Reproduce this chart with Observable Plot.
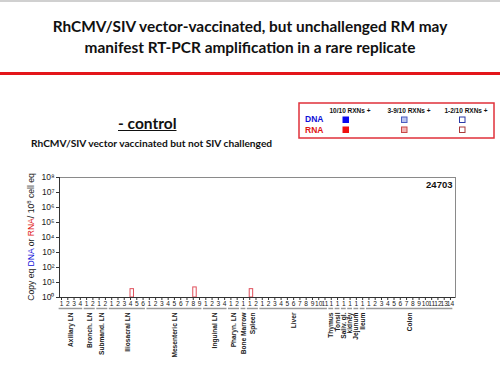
<!DOCTYPE html>
<html><head><meta charset="utf-8">
<script src="https://cdn.jsdelivr.net/npm/d3@7"></script>
<script src="https://cdn.jsdelivr.net/npm/@observablehq/plot@0.6"></script>
<style>
html,body{margin:0;padding:0;background:#fff;}
#page{position:relative;width:500px;height:375px;overflow:hidden;font-family:Lato,"Open Sans",sans-serif;color:#111;}
#topline{position:absolute;left:0;top:0;width:500px;height:2px;background:#d0d0d0;}
#title{position:absolute;left:0;top:16px;width:500px;text-align:center;font-weight:bold;font-size:15.4px;line-height:21px;}
#redline{position:absolute;left:0;top:72px;width:500px;height:3px;background:#e3151a;}
#control{position:absolute;left:118px;top:114px;font-weight:bold;font-size:15.5px;text-decoration:underline;line-height:18px;}
#sub{position:absolute;left:31px;top:137px;font-weight:bold;font-size:10.2px;line-height:12px;}
#legend{position:absolute;left:298px;top:102px;}
#chart{position:absolute;left:0;top:165px;}
</style></head>
<body><div id="page">
<div id="topline"></div>
<div id="title">RhCMV/SIV vector-vaccinated, but unchallenged RM may<br>manifest RT-PCR amplification in a rare replicate</div>
<div id="redline"></div>
<div id="control">- control</div>
<div id="sub">RhCMV/SIV vector vaccinated but not SIV challenged</div>
<svg id="legend" width="200" height="40"></svg>
<div id="chart"></div>
</div>
<script>
// ---- data ----
const groupNames = ["Axillary LN","Bronch. LN","Submand. LN","Iliosacral LN","Mesenteric LN","Inguinal LN","Pharyn. LN","Bone Marrow","Spleen","Liver","Thymus","Tonsil","Saliv. gl.","kidney","Jejunum","Ileum","Colon"];
const groupSizes = [4,2,2,6,9,4,2,1,2,11,1,1,1,1,1,1,14];
const rnaGroup = ["Iliosacral LN","Mesenteric LN","Spleen"];
const rnaReplicate = [4, 8, 1];
const rnaValue = [3.6, 4.7, 3.6];
const yTicks = [1,1e1,1e2,1e3,1e4,1e5,1e6,1e7,1e8];
const yTickLabels = ["10\u2070","10\u00b9","10\u00b2","10\u00b3","10\u2074","10\u2075","10\u2076","10\u2077","10\u2078"];
const animalId = "24703";
const legendColumns = ["10/10 RXNs +","3-9/10 RXNs +","1-2/10 RXNs +"];
const legendRows = ["DNA","RNA"];

// ---- derived tables ----
let idx = 0;
const groups = [], reps = [];
groupNames.forEach((name, g) => {
  const start = idx;
  for (let r = 1; r <= groupSizes[g]; r++) { reps.push({index: idx, label: String(r), group: name}); idx++; }
  groups.push({name, start, end: idx - 1});
});
const bars = rnaGroup.map((g, k) => ({index: groups.find(d => d.name === g).start + rnaReplicate[k] - 1, value: rnaValue[k]}));

// ---- legend ----
const lg = d3.select("#legend");
lg.append("rect").attr("x",1).attr("y",1).attr("width",195).attr("height",35).attr("fill","white").attr("stroke","#e0303a").attr("stroke-width",1.5);
const colCx = [52, 111, 168];
legendColumns.forEach((c, i) => lg.append("text").attr("x", colCx[i]).attr("y", 11).attr("text-anchor","middle")
  .attr("font-family","Liberation Sans, Arial, sans-serif").attr("font-weight","bold").attr("font-size",6.5).attr("fill","#111").text(c));
const rowColor = ["#1010d8","#e01515"];
legendRows.forEach((r, j) => lg.append("text").attr("x", 7).attr("y", 20 + j*11).attr("font-family","Liberation Sans, Arial, sans-serif")
  .attr("font-weight","bold").attr("font-size",8.5).attr("fill", rowColor[j]).text(r));
const sqFill = [["#0a0af0","#b9c3ef","#ffffff"],["#f01010","#f3b3b3","#ffffff"]];
const sqStroke = [["#0a0af0","#4a5cc0","#2a3aa8"],["#f01010","#c84848","#a83a3a"]];
const sqX = [45, 103.5, 161.5];
legendRows.forEach((r, j) => sqX.forEach((x, i) => lg.append("rect").attr("x", x).attr("y", 15 + j*10).attr("width",5.5).attr("height",5.5)
  .attr("fill", sqFill[j][i]).attr("stroke", sqStroke[j][i]).attr("stroke-width",1)));

// ---- chart ----
const chart = Plot.plot({
  width: 500, height: 210,
  marginLeft: 59, marginRight: 45, marginTop: 12, marginBottom: 78,
  style: {fontFamily: "Liberation Sans, Arial, sans-serif", background: "transparent", color: "#222"},
  x: {type: "linear", domain: [-0.32, 62.8], axis: null},
  y: {type: "log", domain: [1, 1e8], axis: null},
  marks: [
    Plot.frame({stroke: "#8a8a8a", strokeWidth: 1}),
    Plot.rect(bars, {x1: d => d.index, x2: d => d.index + 0.55, y1: () => 1, y2: "value", fill: "white", stroke: "#e0505c", strokeWidth: 1}),
    Plot.ruleY([1], {stroke: "#333"}),
    Plot.ruleX([-0.32], {stroke: "#333"}),
    Plot.axisY(yTicks, {tickFormat: d => yTickLabels[Math.round(Math.log10(d))], tickSize: 3, tickPadding: 2, fontSize: 8.5, label: null, stroke: "#333", fill: "#1a1a1a"}),
    Plot.axisX(reps.map(d => d.index), {tickFormat: i => reps[i].label, tickSize: 3, tickPadding: 1, fontSize: 6.6, label: null, stroke: "#333", fill: "#1a1a1a"}),
    Plot.ruleY(groups, {y: () => 1, x1: d => d.start - 0.38, x2: d => d.end + 0.38, dy: 11, stroke: "#9a9a9a", strokeWidth: 1.5}),
    Plot.text(groups, {x: d => (d.start + d.end) / 2, y: () => 1, text: "name", rotate: -90, textAnchor: "end", dy: 15, fontSize: 6.6, fontWeight: "bold", fill: "#222"}),
    Plot.text([animalId], {text: d => d, frameAnchor: "top-right", dx: -3, dy: 4, lineAnchor: "top", textAnchor: "end", fontWeight: "bold", fontSize: 9.5, fill: "#111"})
  ]
});
document.getElementById("chart").appendChild(chart);

// y-axis title with coloured words
const svg = d3.select(chart);
const t = svg.append("text").attr("transform", "translate(34,72) rotate(-90)").attr("text-anchor","middle")
  .attr("font-family","Liberation Sans, Arial, sans-serif").attr("font-size",8.6).attr("fill","#1a1a1a");
t.append("tspan").text("Copy eq ");
t.append("tspan").attr("fill","#1010d8").text("DNA");
t.append("tspan").text(" or ");
t.append("tspan").attr("fill","#e01515").text("RNA");
t.append("tspan").text("/ 10");
t.append("tspan").attr("font-size",6).attr("dy",-3).text("8");
t.append("tspan").attr("dy",3).text(" cell eq");
</script>
</body></html>
